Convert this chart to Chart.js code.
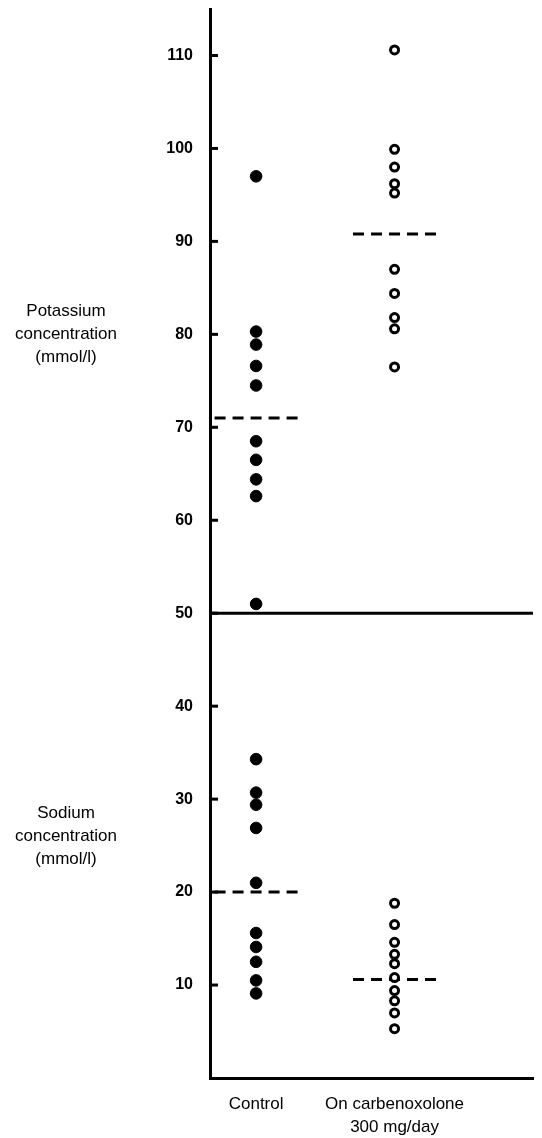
<!DOCTYPE html>
<html>
<head>
<meta charset="utf-8">
<script src="https://cdn.jsdelivr.net/npm/chart.js@4.4.1/dist/chart.umd.min.js"></script>
<style>
  html, body { margin: 0; padding: 0; background: #fff; }
  #wrap { width: 542px; height: 1138px; }
</style>
</head>
<body>
<div id="wrap"><canvas id="chart" width="542" height="1138"></canvas></div>
<script>
// groups on the x axis (1 = Control, 2 = On carbenoxolone)
let groups = ["Control", ["On carbenoxolone", "300 mg/day"]];

// potassium concentration (mmol/l)
let potassiumControl = [97.0, 80.3, 78.9, 76.6, 74.5, 68.5, 66.5, 64.4, 62.6, 51.0];
let potassiumCarbenoxolone = [110.6, 99.9, 98.0, 96.2, 95.2, 87.0, 84.4, 81.8, 80.6, 76.5];
let potassiumMeans = [71.0, 90.8];

// sodium concentration (mmol/l)
let sodiumControl = [34.3, 30.7, 29.4, 26.9, 21.0, 15.6, 14.1, 12.5, 10.5, 9.1];
let sodiumCarbenoxolone = [18.8, 16.5, 14.6, 13.3, 12.3, 10.8, 9.4, 8.3, 7.0, 5.3];
let sodiumMeans = [20.0, 10.6];

let yTicks = [10, 20, 30, 40, 50, 60, 70, 80, 90, 100, 110];
let dividerValue = 50;

let sideLabels = [
    { value: 80, lines: ["Potassium", "concentration", "(mmol/l)"] },
    { value: 26, lines: ["Sodium", "concentration", "(mmol/l)"] }
];

let xMin = 0.667, xMax = 3.0;
let FONT = "'Liberation Sans', Arial, Helvetica, sans-serif";

function pts(group, values) {
    return values.map(v => ({ x: group, y: v }));
}

function meanLine(group, value) {
    return [{ x: group - 0.3, y: value }, { x: group + 0.33, y: value }];
}

let filled = {
    pointRadius: 5.8,
    pointBackgroundColor: '#000',
    pointBorderColor: '#000',
    pointBorderWidth: 1,
    showLine: false
};
let open = {
    pointRadius: 4,
    pointBackgroundColor: '#fff',
    pointBorderColor: '#000',
    pointBorderWidth: 3,
    showLine: false
};
let dashed = {
    showLine: true,
    borderColor: '#000',
    borderWidth: 3,
    borderDash: [11, 7],
    pointRadius: 0
};

// inward tick marks + the text on the left
let decorations = {
    id: 'decorations',
    afterDraw(chart) {
        let c = chart.ctx;
        let y = chart.scales.y;
        let left = chart.chartArea.left;
        c.save();
        c.strokeStyle = '#000';
        c.lineWidth = 3;
        yTicks.forEach(t => {
            let py = y.getPixelForValue(t);
            c.beginPath();
            c.moveTo(left, py);
            c.lineTo(left + 8, py);
            c.stroke();
        });
        c.fillStyle = '#000';
        c.font = '17px ' + FONT;
        c.textAlign = 'center';
        c.textBaseline = 'middle';
        sideLabels.forEach(s => {
            let mid = y.getPixelForValue(s.value);
            s.lines.forEach((line, i) => {
                c.fillText(line, 66, mid + (i - 1) * 23);
            });
        });
        c.restore();
    }
};

let ctx = document.getElementById('chart').getContext('2d');

new Chart(ctx, {
    type: 'scatter',
    data: {
        datasets: [
            Object.assign({ data: pts(1, potassiumControl) }, filled),
            Object.assign({ data: pts(2, potassiumCarbenoxolone) }, open),
            Object.assign({ data: pts(1, sodiumControl) }, filled),
            Object.assign({ data: pts(2, sodiumCarbenoxolone) }, open),
            Object.assign({ data: meanLine(1, potassiumMeans[0]) }, dashed),
            Object.assign({ data: meanLine(2, potassiumMeans[1]) }, dashed),
            Object.assign({ data: meanLine(1, sodiumMeans[0]) }, dashed),
            Object.assign({ data: meanLine(2, sodiumMeans[1]) }, dashed),
            {
                data: [{ x: xMin, y: dividerValue }, { x: xMax, y: dividerValue }],
                showLine: true, borderColor: '#000', borderWidth: 3, pointRadius: 0
            }
        ]
    },
    options: {
        responsive: false,
        animation: false,
        devicePixelRatio: 1,
        layout: { padding: { top: 9, right: 9, left: 0, bottom: 0 } },
        plugins: { legend: { display: false }, tooltip: { enabled: false } },
        scales: {
            x: {
                type: 'linear',
                min: xMin,
                max: xMax,
                afterBuildTicks: s => { s.ticks = [{ value: 1 }, { value: 2 }]; },
                afterFit: s => { s.height = 60; s.paddingLeft = 0; s.paddingRight = 0; },
                grid: { display: false },
                border: { display: true, color: '#000', width: 3 },
                ticks: {
                    padding: 7,
                    color: '#000',
                    font: { family: FONT, size: 17, lineHeight: 1.35 },
                    callback: v => groups[v - 1]
                }
            },
            y: {
                min: 0,
                max: 115,
                afterBuildTicks: s => { s.ticks = yTicks.map(v => ({ value: v })); },
                afterFit: s => { s.width = 210; s.paddingTop = 0; s.paddingBottom = 0; },
                grid: { display: false },
                border: { display: true, color: '#000', width: 3 },
                ticks: {
                    padding: 9,
                    color: '#000',
                    font: { family: FONT, size: 16, weight: 'bold' }
                }
            }
        }
    },
    plugins: [decorations]
});
</script>
</body>
</html>
